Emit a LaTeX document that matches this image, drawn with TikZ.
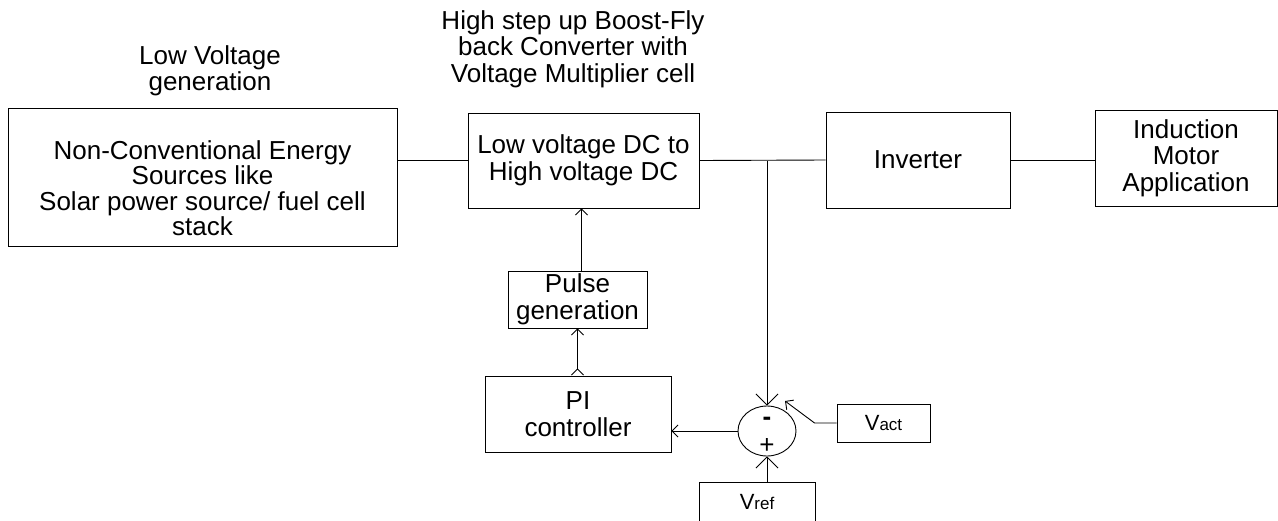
\documentclass[tikz,border=0pt]{standalone}
\usepackage{fontspec}
\setmainfont{Liberation Sans}
\usetikzlibrary{arrows.meta, shapes.geometric, positioning, calc}

\tikzset{
    blk/.style={draw, line width=0.9pt, align=center, inner sep=2pt},
    sig/.style={draw, line width=0.9pt, -{Straight Barb[length=6pt, width=12pt]}},
    sumarrow/.style={draw, line width=0.9pt, -{Straight Barb[length=11pt, width=22pt]}},
}

\begin{document}
\begin{tikzpicture}[x=1pt, y=-1pt, font=\fontsize{26}{26.5}\selectfont]
\useasboundingbox (0,0) rectangle (1278,520);

% headings
\node (lowlbl) at (210,71) [align=center] {Low Voltage\\generation};
\node (convlbl) at (573,49) [align=center] {High step up Boost-Fly\\back Converter with\\Voltage Multiplier cell};

% power path
\node (src) at (202.5,177) [blk, minimum width=389, minimum height=138] {};
\node (srctext) at ($(src.center)+(0,11)$) [align=center, font=\fontsize{26}{25.5}\selectfont] {Non-Conventional Energy\\Sources like\\Solar power source/ fuel cell\\stack};
\node (conv) at (583.5,160.5) [blk, minimum width=231, minimum height=95] {Low voltage DC to\\High voltage DC};
\node (inv) at (918,160) [blk, minimum width=184, minimum height=96] {Inverter};
\node (motor) at (1186,158) [blk, minimum width=182, minimum height=96] {Induction\\Motor\\Application};

% control loop
\node (pulse) at (577.5,299.5) [blk, minimum width=139, minimum height=57] {Pulse\\generation};
\node (pi) at (578,414) [blk, minimum width=186, minimum height=76] {PI\\controller};
\node (sum) at (767,431) [draw, line width=0.9pt, ellipse, minimum width=58, minimum height=50, inner sep=0pt] {};
\node (minus) at (767,421) {\bfseries -};
\node (plus) at (767,446) {+};
\node (vact) at (883.5,423) [blk, minimum width=93, minimum height=38] {\fontsize{22}{22}\selectfont V\fontsize{17}{17}\selectfont act};
\node (vref) at (757,502) [blk, minimum width=116, minimum height=40] {\fontsize{22}{22}\selectfont V\fontsize{17}{17}\selectfont ref};

\coordinate (tap) at (sum.north |- conv.east);
\coordinate (vin) at (785,401);

\draw[line width=0.9pt] (src.east |- conv.west) -- (conv.west);
\draw[line width=0.9pt] (conv.east) -- (inv.west);
\draw[line width=0.9pt] (inv.east) -- (inv.east -| motor.west);

\draw[sumarrow] (tap) -- (sum.north);
\draw[sumarrow] (sum.south |- vref.north) -- (sum.south);
\draw[sig] (vact.west) -- ++(-22,0) -- (vin);
\draw[sig] (sum.west) -- (sum.west -| pi.east);
\draw[line width=0.9pt, {Straight Barb[reversed, length=6pt, width=12pt]}-{Straight Barb[length=6pt, width=12pt]}] (pi.north -| pulse) -- (pulse.south);
\draw[sig] ([xshift=4pt]pulse.north) -- ([xshift=4pt]conv.south -| pulse.north);
\end{tikzpicture}
\end{document}
